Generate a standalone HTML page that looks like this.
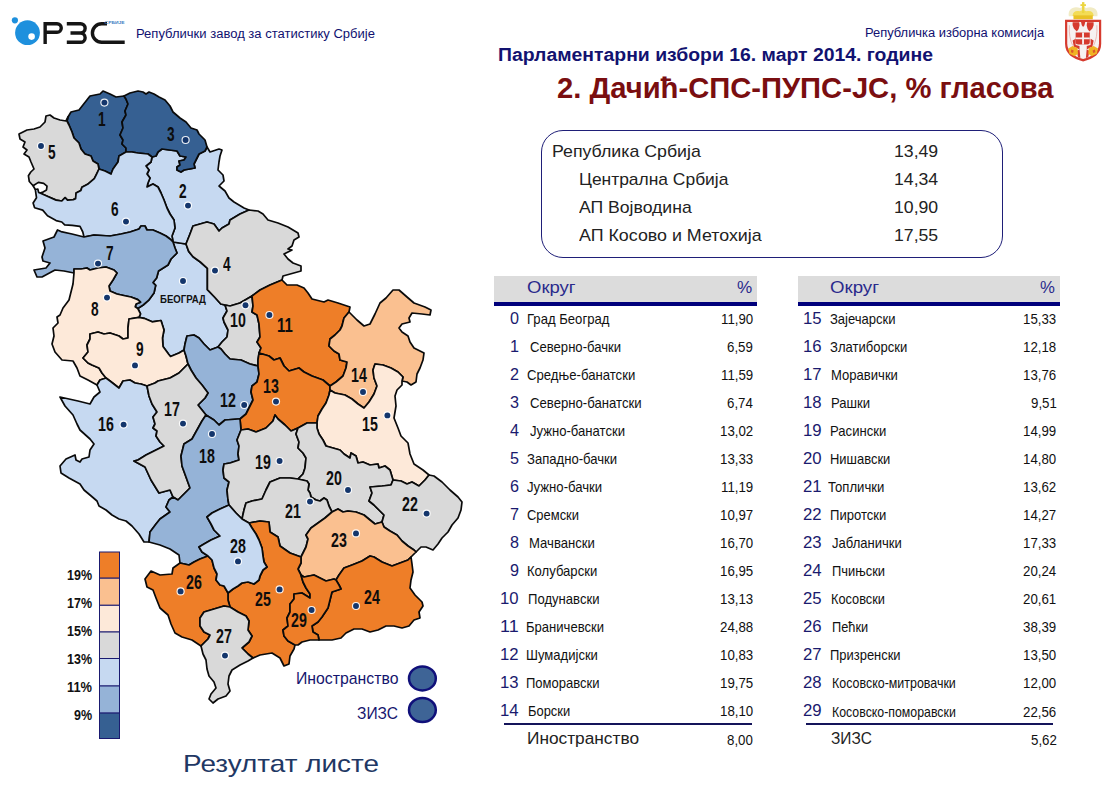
<!DOCTYPE html>
<html><head><meta charset="utf-8"><title>Izbori 2014</title>
<style>
html,body{margin:0;padding:0;background:#fff;}
body{width:1112px;height:785px;position:relative;overflow:hidden;font-family:"Liberation Sans",sans-serif;}
.t{position:absolute;white-space:nowrap;transform-origin:0 0;}
.a{position:absolute;}
svg{position:absolute;left:0;top:0;}
</style></head><body>

<svg width="1112" height="785" viewBox="0 0 1112 785">
<g stroke="#0a0a0a" stroke-width="1.7" stroke-linejoin="round">
<path d="M173,242 L186,244 L188.7,251.4 L193,256.8 L200.3,262 L207.4,268.3 L207.4,289.7 L214.5,297 L220.8,304 L225,305 L227,311 L223,318 L224,322 L228,330 L227,337 L222,342 L218,347 L210,350 L204,344 L199,338 L194,335 L187,336 L185,344 L184,350 L179,353 L170.5,356.5 L168.5,354 L163,346.5 L162.5,338 L164,330 L161,320.5 L152.1,321.8 L144.1,318.3 L139,317.4 L140.5,313.8 L137.8,308.5 L143.2,305 L148.5,300.4 L154,293 L155.7,285.3 L153,282.6 L156.6,278 L158.5,271 L168,265 L171,259 L177,253 L175,248Z" fill="#C6D9F1"/>
<path d="M68,117 L71,112 L79,110 L90,96 L100,94 L103,91 L110,94 L116,97 L124,96 L126,99 L128,104 L125,111 L126,115 L122,122 L123,128 L120,135 L123,140 L122,144 L126,148 L126,152 L119,156 L118,162 L113,169 L111,174 L105,171 L99,169 L98,164 L93,161 L91,156 L85,154 L81,149 L79,143 L74,138 L72,132 L69,125 L67,121Z" fill="#366092"/>
<path d="M152,157 L156,156 L158,152 L162,149 L177,151 L180,156 L186,157 L184,160 L179,161 L180,165 L177,167 L177,170 L181,172 L184,170 L195,168 L194,164 L197,158 L199,154 L205,151 L207,147 L210,152 L219,149 L222,150 L220,156 L219,162 L218,170 L223,175 L224,181 L219,186 L225,191 L229,198 L234,202 L244,208 L249,210 L240,214 L230,220 L229,224 L222,228 L219,231 L214,224 L207,222 L193,226 L190,234 L186,244 L173,242 L172,236 L175,228 L174,220 L170,214 L167,208 L164,200 L161,193 L158,187 L153,184 L147,187 L148,183 L150,178 L147,174 L149,170 L146,166 L151,162Z" fill="#C6D9F1"/>
<path d="M124,96 L130,93 L138,91 L143,92 L146,94 L149,92 L154,94 L159,97 L165,100 L170,106 L173,112 L180,118 L186,122 L191,128 L197,130 L199,134 L205,140 L207,147 L205,151 L199,154 L197,158 L194,164 L195,168 L184,170 L181,172 L177,170 L177,167 L180,165 L179,161 L184,160 L186,157 L180,156 L177,151 L162,149 L158,152 L156,156 L152,157 L148,154 L138,153 L132,152 L126,152 L126,148 L122,144 L123,140 L120,135 L123,128 L122,122 L126,115 L125,111 L128,104 L126,99Z" fill="#366092"/>
<path d="M186,244 L190,234 L193,226 L207,222 L214,224 L219,231 L222,228 L229,224 L230,220 L240,214 L249,210 L258,211 L263,214 L268,220 L278,223 L288,227 L298,233 L299,237 L294,240 L292,246 L288,249 L292,250 L284,254 L288,259 L293,263 L301,266 L301,271 L283,276 L282,280 L270,285 L260,290 L252,296 L240,303 L230,306 L225,305 L220.8,304 L214.5,297 L207.4,289.7 L207.4,268.3 L200.3,262 L193,256.8 L188.7,251.4Z" fill="#D9D9D9"/>
<path d="M68,117 L67,121 L69,125 L72,132 L74,138 L79,143 L81,149 L85,154 L91,156 L93,161 L98,164 L99,169 L96.7,173.8 L94.3,178.6 L87.6,184.3 L81.9,187.2 L80.9,190.5 L76.1,193 L75.6,198.7 L73.3,199.6 L67.5,200.1 L65.1,197.7 L61.8,201 L56.1,200.1 L48.4,196.7 L40,193 L42.2,192.4 L46.5,190 L47,186.2 L43.7,183.4 L38.4,182.4 L33.1,185.8 L29.3,181.5 L28.4,175.7 L30.8,172 L34,169 L31,162 L29,157 L24,154 L27,150 L23,147 L25,142 L20,139 L19,134 L27,130 L34,129 L40,127 L45,122 L46,116 L50,115 L54,118 L60,120 L66,121Z" fill="#D9D9D9"/>
<path d="M99,169 L105,171 L111,174 L113,169 L118,162 L119,156 L126,152 L132,152 L138,153 L148,154 L152,157 L151,162 L146,166 L149,170 L147,174 L150,178 L148,183 L147,187 L153,184 L158,187 L161,193 L164,200 L167,208 L170,214 L174,220 L175,228 L172,236 L173,242 L170,239 L166,236 L160,233 L153,230 L147,230 L145,226 L141,226 L139,229 L130,232 L121,234 L110,236 L94,235 L84,237 L82.8,232 L80,226.4 L72.3,225.4 L64.7,224.9 L61.8,222 L56.1,220.6 L47.5,215.8 L42.7,210.1 L34.6,207.7 L33.1,203 L36.5,197.7 L35.3,189.5 L37.8,189 L38.6,192.4 L40,193 L48.4,196.7 L56.1,200.1 L61.8,201 L65.1,197.7 L67.5,200.1 L73.3,199.6 L75.6,198.7 L76.1,193 L80.9,190.5 L81.9,187.2 L87.6,184.3 L94.3,178.6 L96.7,173.8Z" fill="#C6D9F1"/>
<path d="M84,237 L94,235 L110,236 L121,234 L130,232 L139,229 L141,226 L145,226 L147,230 L153,230 L160,233 L166,236 L170,239 L173,242 L175,248 L177,253 L171,259 L168,265 L158.5,271 L156.6,278 L153,282.6 L155.7,285.3 L154,293 L148.5,300.4 L143.2,305 L137.8,308.5 L135.2,306.7 L136.1,304 L140.5,302.2 L137.8,299.6 L131,297 L126,296 L117,294 L110,291 L109,286 L113,280 L117,273 L114,270 L106,267 L98,268 L90,270 L87,268 L81,269 L74,269 L74,273 L64,271 L55,270 L42,277 L37,277 L34,270 L46,268 L50,263 L43,261 L42,257 L45,248 L43,241 L54,237 L57.5,230 L61,231.6 L72,234Z" fill="#95B3D7"/>
<path d="M74,273 L74,269 L81,269 L87,268 L90,270 L98,268 L106,267 L114,270 L117,273 L113,280 L109,286 L110,291 L117,294 L126,296 L131,297 L137.8,299.6 L140.5,302.2 L136.1,304 L135.2,306.7 L137.8,308.5 L140.5,313.8 L139,317.4 L129,319 L128,328 L128,338 L123,339 L119,336 L110,333 L104,334 L98,332 L90,334 L90,339 L87,345 L88,352 L83,358 L88,363 L92,365 L99,368 L102,373 L106,378 L100,380 L97,385 L88,380 L80,376 L77,368 L73,361 L62,360 L55,352 L52,344 L54,336 L53,328 L58,323 L57,317 L60,315 L63,308 L69,300 L71,292 L73,284Z" fill="#FDE9D9"/>
<path d="M106,378 L102,373 L99,368 L92,365 L88,363 L83,358 L88,352 L87,345 L90,339 L90,334 L98,332 L104,334 L110,333 L119,336 L123,339 L128,338 L128,328 L129,319 L139,317.4 L144.1,318.3 L152.1,321.8 L161,320.5 L164,330 L162.5,338 L163,346.5 L168.5,354 L170.5,356.5 L179,353 L184,350 L186,356 L188,364 L179,373 L170,378 L158,381 L155,383 L147,386 L141,384 L135,383 L130,380 L123,381 L119,388 L110,381Z" fill="#FDE9D9"/>
<path d="M225,305 L230,306 L240,303 L252,296 L253,306 L252,312 L257,315 L259,324 L260,337 L257,342 L261,348 L259,353 L258,360 L258,366 L250,364 L241,360 L230,359 L225,354 L221,349 L218,347 L222,342 L227,337 L228,330 L224,322 L223,318 L227,311Z" fill="#D9D9D9"/>
<path d="M252,296 L260,290 L270,285 L282,280 L287,285 L297,285 L304,288 L308,293 L312,299 L324,302 L328,300 L338,303 L350,307 L349,312 L344,318 L342,326 L340,330 L335,335 L330,339 L329,346 L334,351 L339,354 L340,360 L347,362 L346,368 L343,376 L336,382 L330,386 L323,380 L312,376 L304,372 L299,368 L289,371 L284,366 L280,358 L274,360 L269,356 L259,353 L261,348 L257,342 L260,337 L259,324 L257,315 L252,312 L253,306Z" fill="#EE7E28"/>
<path d="M184,350 L185,344 L187,336 L194,335 L199,338 L204,344 L210,350 L218,347 L221,349 L225,354 L230,359 L241,360 L250,364 L258,366 L259,374 L257,382 L252,386 L251,392 L253,400 L249,408 L246,414 L240,419 L238,419 L225,420 L219,425 L214,420 L206,415 L198,405 L205,398 L208,393 L202,385 L196,378 L191,370 L188,364 L186,356Z" fill="#95B3D7"/>
<path d="M259,353 L269,356 L274,360 L280,358 L284,366 L289,371 L299,368 L304,372 L312,376 L323,380 L330,386 L330,390 L329,395 L326,403 L322,409 L318,416 L317,423 L307,423 L298,428 L291,431 L285,425 L278,419 L275,415 L273,421 L266,428 L256,432 L248,429 L241,430 L240,419 L246,414 L249,408 L253,400 L251,392 L252,386 L257,382 L259,374 L258,366 L258,360Z" fill="#EE7E28"/>
<path d="M330,386 L336,382 L343,376 L346,368 L347,362 L340,360 L339,354 L334,351 L329,346 L330,339 L335,335 L340,330 L342,326 L344,318 L349,312 L357,320 L364,326 L370,324 L375,314 L380,303 L386,298 L393,290 L399,290 L407,297 L414,303 L425,307 L431,310 L430,315 L422,314 L412,313 L409,318 L410,322 L402,324 L399,328 L402,332 L408,336 L410,342 L414,348 L424,353 L423,360 L420,368 L417,374 L416,382 L411,385 L407,382 L402,381 L403,377 L398,372 L391,368 L383,365 L375,364 L373,370 L374,378 L377,386 L374,394 L369,402 L364,408 L358,404 L352,399 L345,395 L335,393 L330,390Z" fill="#FAC090"/>
<path d="M330,390 L335,393 L345,395 L352,399 L358,404 L364,408 L369,402 L374,394 L377,386 L374,378 L373,370 L375,364 L383,365 L391,368 L398,372 L403,377 L402,381 L402,385 L397,390 L395,396 L396,406 L394,418 L398,428 L401,436 L408,443 L410,454 L414,464 L423,470 L429,475 L425,480 L419,486 L412,482 L407,484 L401,481 L393,480 L390,470 L385,466 L379,468 L378,464 L370,465 L363,462 L358,463 L356,456 L351,453 L350,458 L344,454 L340,450 L333,448 L326,446 L323,440 L319,434 L317,428 L317,423 L318,416 L322,409 L326,403 L329,395Z" fill="#FDE9D9"/>
<path d="M106,378 L110,381 L119,388 L123,381 L130,380 L135,383 L141,384 L147,386 L149,396 L152,404 L157,412 L153,417 L155,424 L153,428 L157,431 L156,436 L160,442 L164,446 L158,449 L150,453 L146,455 L138,460 L134,461 L145,467 L151,480 L159,493 L170,490 L173,497 L169,500 L166,507 L170,512 L160,519 L156,524 L150,532 L149,542 L144,542 L139,534 L132,526 L126,521 L119,519 L112,515 L106,510 L99,506 L97,501 L90,495 L84,490 L80,484 L69,478 L61,473 L60,466 L66,459 L75,455 L76,460 L80,462 L82,459 L89,457 L90,450 L94,444 L90,439 L80,430 L77,424 L73,415 L65,406 L60,397 L78,401 L90,404 L94,397 L100,392 L97,385 L100,380Z" fill="#C6D9F1"/>
<path d="M147,386 L155,383 L158,381 L170,378 L179,373 L188,364 L191,370 L196,378 L202,385 L208,393 L205,398 L198,405 L206,415 L202,421 L197,430 L192,439 L184,444 L181,456 L182,466 L186,477 L190,488 L178,500 L173,497 L170,490 L159,493 L151,480 L145,467 L134,461 L138,460 L146,455 L150,453 L158,449 L164,446 L160,442 L156,436 L157,431 L153,428 L155,424 L153,417 L157,412 L152,404 L149,396Z" fill="#D9D9D9"/>
<path d="M173,497 L178,500 L190,488 L186,477 L182,466 L181,456 L184,444 L192,439 L197,430 L202,421 L206,415 L214,420 L219,425 L225,420 L238,419 L240,419 L241,430 L237,440 L239,446 L238,454 L239,460 L230,463 L224,464 L223,470 L224,478 L229,482 L227,490 L228,500 L229,505 L220,509 L212,513 L207,517 L211,524 L214,530 L220,536 L211,540 L204,544 L199,547 L202,552 L208,556 L200,559 L194,562 L189,565 L180,563 L179,555 L170,549 L160,545 L149,542 L150,532 L156,524 L160,519 L170,512 L166,507 L169,500Z" fill="#95B3D7"/>
<path d="M241,430 L248,429 L256,432 L266,428 L273,421 L275,415 L278,419 L285,425 L291,431 L298,428 L296,434 L299,442 L298,448 L303,453 L306,458 L305,468 L303,474 L298,479 L290,478 L280,478 L270,482 L266,490 L262,499 L252,501 L246,503 L244,510 L242,519 L236,513 L229,505 L228,500 L227,490 L229,482 L224,478 L223,470 L224,464 L230,463 L239,460 L238,454 L239,446 L237,440Z" fill="#D9D9D9"/>
<path d="M298,428 L307,423 L317,423 L317,428 L319,434 L323,440 L326,446 L333,448 L340,450 L344,454 L350,458 L351,453 L356,456 L358,463 L363,462 L370,465 L378,464 L379,468 L385,466 L390,470 L393,480 L391,485 L382,486 L370,487 L372,493 L369,501 L374,505 L379,510 L384,515 L382,522 L375,524 L370,520 L364,515 L356,512 L348,511 L343,512 L338,509 L332,512 L329,506 L327,500 L324,498 L320,501 L316,500 L311,497 L310,493 L308,490 L309,484 L307,481 L298,479 L303,474 L305,468 L306,458 L303,453 L298,448 L299,442 L296,434Z" fill="#D9D9D9"/>
<path d="M298,479 L307,481 L309,484 L308,490 L310,493 L311,497 L316,500 L320,501 L324,498 L327,500 L329,506 L332,512 L325,518 L318,523 L311,528 L306,535 L308,539 L306,547 L303,553 L301,557 L290,553 L280,546 L278,537 L270,532 L269,522 L260,521 L249,523 L242,519 L244,510 L246,503 L252,501 L262,499 L266,490 L270,482 L280,478 L290,478Z" fill="#D9D9D9"/>
<path d="M393,480 L401,481 L407,484 L412,482 L419,486 L425,480 L429,475 L434,476 L442,482 L450,490 L458,497 L462,502 L461,510 L458,518 L452,525 L448,532 L442,538 L438,544 L433,550 L426,547 L421,547 L416,552 L414,550 L408,546 L402,541 L397,535 L390,531 L384,527 L382,522 L384,515 L379,510 L374,505 L369,501 L372,493 L370,487 L382,486 L391,485Z" fill="#D9D9D9"/>
<path d="M332,512 L338,509 L343,512 L348,511 L356,512 L364,515 L370,520 L375,524 L382,522 L384,527 L390,531 L397,535 L402,541 L408,546 L414,550 L416,552 L411,557 L408,560 L400,563 L392,566 L382,562 L374,557 L370,556 L362,561 L352,565 L344,568 L339,575 L336,580 L334,579 L326,581 L320,578 L314,575 L304,577 L301,575 L298,569 L301,563 L301,557 L303,553 L306,547 L308,539 L306,535 L311,528 L318,523 L325,518Z" fill="#FAC090"/>
<path d="M336,580 L339,575 L344,568 L352,565 L362,561 L370,556 L374,557 L382,562 L392,566 L400,563 L408,560 L411,557 L412,564 L413,572 L411,580 L410,588 L415,595 L422,602 L423,606 L419,612 L420,618 L414,620 L409,626 L402,628 L394,626 L386,626 L378,630 L370,632 L362,629 L354,629 L346,633 L341,638 L332,640 L326,640 L319,640 L318,635 L313,632 L312,626 L318,622 L322,617 L328,608 L330,600 L332,592 L341,589 L339,585Z" fill="#EE7E28"/>
<path d="M249,523 L260,521 L269,522 L270,532 L278,537 L280,546 L290,553 L301,557 L301,563 L298,569 L301,575 L303,582 L306,588 L310,594 L310,598 L302,593 L294,594 L294,599 L290,604 L290,612 L287,618 L288,626 L283,630 L284,636 L288,641 L295,645 L294,649 L290,656 L289,664 L284,666 L280,658 L272,653 L260,655 L253,658 L248,654 L242,648 L249,642 L252,636 L248,630 L249,621 L246,616 L238,612 L230,607 L228,600 L228,593 L233,589 L238,586 L242,583 L248,582 L254,584 L259,580 L260,576 L263,570 L267,567 L264,562 L263,556 L262,548 L259,540 L256,534 L252,528Z" fill="#EE7E28"/>
<path d="M180,563 L189,565 L194,562 L200,559 L208,556 L212,560 L214,568 L217,574 L216,580 L220,585 L224,586 L228,593 L228,600 L230,607 L224,606 L214,609 L204,612 L200,618 L200,626 L204,632 L210,635 L208,639 L201,646 L192,640 L182,637 L175,633 L171,624 L168,615 L160,608 L156,598 L153,590 L147,587 L145,579 L151,571 L160,575 L172,574 L173,568Z" fill="#EE7E28"/>
<path d="M201,646 L208,639 L210,635 L204,632 L200,626 L200,618 L204,612 L214,609 L224,606 L230,607 L238,612 L246,616 L249,621 L248,630 L252,636 L249,642 L242,648 L248,654 L253,658 L248,661 L240,665 L232,670 L229,676 L228,684 L230,691 L226,696 L218,699 L213,703 L209,699 L211,694 L216,688 L214,682 L209,676 L207,669 L206,660 L203,654Z" fill="#D9D9D9"/>
<path d="M208,556 L202,552 L199,547 L204,544 L211,540 L220,536 L214,530 L211,524 L207,517 L212,513 L220,509 L229,505 L236,513 L242,519 L249,523 L252,528 L256,534 L259,540 L262,548 L263,556 L264,562 L267,567 L263,570 L260,576 L259,580 L254,584 L248,582 L242,583 L238,586 L233,589 L228,593 L224,586 L220,585 L216,580 L217,574 L214,568 L212,560Z" fill="#C6D9F1"/>
<path d="M301,575 L304,577 L314,575 L320,578 L326,581 L334,579 L336,580 L339,585 L341,589 L332,592 L330,600 L328,608 L322,617 L318,622 L312,626 L313,632 L318,635 L319,640 L310,640 L302,642 L298,645 L295,645 L288,641 L284,636 L283,630 L288,626 L287,618 L290,612 L290,604 L294,599 L294,594 L302,593 L310,598 L310,594 L306,588 L303,582Z" fill="#EE7E28"/>
<path d="M33.1,185.8 L35.3,189.5" fill="none"/>
</g>
<circle cx="104.4" cy="102.6" r="4.1" fill="#fff" opacity="0.9"/><circle cx="104.4" cy="102.6" r="2.95" fill="#14366C"/>
<circle cx="185.6" cy="140" r="4.1" fill="#fff" opacity="0.9"/><circle cx="185.6" cy="140" r="2.95" fill="#14366C"/>
<circle cx="41" cy="146" r="4.1" fill="#fff" opacity="0.9"/><circle cx="41" cy="146" r="2.95" fill="#14366C"/>
<circle cx="126" cy="221.6" r="4.1" fill="#fff" opacity="0.9"/><circle cx="126" cy="221.6" r="2.95" fill="#14366C"/>
<circle cx="188" cy="205.6" r="4.1" fill="#fff" opacity="0.9"/><circle cx="188" cy="205.6" r="2.95" fill="#14366C"/>
<circle cx="215" cy="270.6" r="4.1" fill="#fff" opacity="0.9"/><circle cx="215" cy="270.6" r="2.95" fill="#14366C"/>
<circle cx="183" cy="281" r="4.1" fill="#fff" opacity="0.9"/><circle cx="183" cy="281" r="2.95" fill="#14366C"/>
<circle cx="245.5" cy="305.3" r="4.1" fill="#fff" opacity="0.9"/><circle cx="245.5" cy="305.3" r="2.95" fill="#14366C"/>
<circle cx="98" cy="263.6" r="4.1" fill="#fff" opacity="0.9"/><circle cx="98" cy="263.6" r="2.95" fill="#14366C"/>
<circle cx="107" cy="297.6" r="4.1" fill="#fff" opacity="0.9"/><circle cx="107" cy="297.6" r="2.95" fill="#14366C"/>
<circle cx="135" cy="365.4" r="4.1" fill="#fff" opacity="0.9"/><circle cx="135" cy="365.4" r="2.95" fill="#14366C"/>
<circle cx="123.6" cy="424.6" r="4.1" fill="#fff" opacity="0.9"/><circle cx="123.6" cy="424.6" r="2.95" fill="#14366C"/>
<circle cx="183" cy="423.6" r="4.1" fill="#fff" opacity="0.9"/><circle cx="183" cy="423.6" r="2.95" fill="#14366C"/>
<circle cx="244.2" cy="405" r="4.1" fill="#fff" opacity="0.9"/><circle cx="244.2" cy="405" r="2.95" fill="#14366C"/>
<circle cx="212" cy="434" r="4.1" fill="#fff" opacity="0.9"/><circle cx="212" cy="434" r="2.95" fill="#14366C"/>
<circle cx="269.4" cy="315" r="4.1" fill="#fff" opacity="0.9"/><circle cx="269.4" cy="315" r="2.95" fill="#14366C"/>
<circle cx="363" cy="392" r="4.1" fill="#fff" opacity="0.9"/><circle cx="363" cy="392" r="2.95" fill="#14366C"/>
<circle cx="276" cy="401.6" r="4.1" fill="#fff" opacity="0.9"/><circle cx="276" cy="401.6" r="2.95" fill="#14366C"/>
<circle cx="387.4" cy="415.4" r="4.1" fill="#fff" opacity="0.9"/><circle cx="387.4" cy="415.4" r="2.95" fill="#14366C"/>
<circle cx="279.6" cy="461" r="4.1" fill="#fff" opacity="0.9"/><circle cx="279.6" cy="461" r="2.95" fill="#14366C"/>
<circle cx="348" cy="490" r="4.1" fill="#fff" opacity="0.9"/><circle cx="348" cy="490" r="2.95" fill="#14366C"/>
<circle cx="310" cy="501.6" r="4.1" fill="#fff" opacity="0.9"/><circle cx="310" cy="501.6" r="2.95" fill="#14366C"/>
<circle cx="426.6" cy="513.6" r="4.1" fill="#fff" opacity="0.9"/><circle cx="426.6" cy="513.6" r="2.95" fill="#14366C"/>
<circle cx="356" cy="533.4" r="4.1" fill="#fff" opacity="0.9"/><circle cx="356" cy="533.4" r="2.95" fill="#14366C"/>
<circle cx="356" cy="606" r="4.1" fill="#fff" opacity="0.9"/><circle cx="356" cy="606" r="2.95" fill="#14366C"/>
<circle cx="279.6" cy="589.4" r="4.1" fill="#fff" opacity="0.9"/><circle cx="279.6" cy="589.4" r="2.95" fill="#14366C"/>
<circle cx="311.6" cy="610" r="4.1" fill="#fff" opacity="0.9"/><circle cx="311.6" cy="610" r="2.95" fill="#14366C"/>
<circle cx="238" cy="561.4" r="4.1" fill="#fff" opacity="0.9"/><circle cx="238" cy="561.4" r="2.95" fill="#14366C"/>
<circle cx="180.6" cy="591.4" r="4.1" fill="#fff" opacity="0.9"/><circle cx="180.6" cy="591.4" r="2.95" fill="#14366C"/>
<circle cx="225" cy="655.6" r="4.1" fill="#fff" opacity="0.9"/><circle cx="225" cy="655.6" r="2.95" fill="#14366C"/>
<rect x="99.5" y="552" width="20" height="26.2" fill="#EE7E28" stroke="#1a1a70" stroke-width="1"/>
<rect x="99.5" y="578.2" width="20" height="27.1" fill="#FAC090" stroke="#1a1a70" stroke-width="1"/>
<rect x="99.5" y="605.3" width="20" height="26.7" fill="#FDE9D9" stroke="#1a1a70" stroke-width="1"/>
<rect x="99.5" y="632" width="20" height="26.5" fill="#D9D9D9" stroke="#1a1a70" stroke-width="1"/>
<rect x="99.5" y="658.5" width="20" height="27.5" fill="#C6D9F1" stroke="#1a1a70" stroke-width="1"/>
<rect x="99.5" y="686" width="20" height="27.1" fill="#95B3D7" stroke="#1a1a70" stroke-width="1"/>
<rect x="99.5" y="713.1" width="20" height="25.4" fill="#366092" stroke="#1a1a70" stroke-width="1"/>
<ellipse cx="422.4" cy="678.4" rx="13.4" ry="12.0" fill="#3E6496" stroke="#10107a" stroke-width="2.5"/>
<ellipse cx="422.4" cy="710.0" rx="13.4" ry="12.0" fill="#3E6496" stroke="#10107a" stroke-width="2.5"/>
</svg>
<div class="t" style="left:98.2px;top:108.9px;font-size:20px;line-height:20px;color:#0d0d0d;font-weight:bold;transform:scaleX(0.6833);">1</div>
<div class="t" style="left:167.2px;top:123.9px;font-size:20px;line-height:20px;color:#0d0d0d;font-weight:bold;transform:scaleX(0.6833);">3</div>
<div class="t" style="left:48.2px;top:141.9px;font-size:20px;line-height:20px;color:#0d0d0d;font-weight:bold;transform:scaleX(0.6833);">5</div>
<div class="t" style="left:111.2px;top:198.9px;font-size:20px;line-height:20px;color:#0d0d0d;font-weight:bold;transform:scaleX(0.6833);">6</div>
<div class="t" style="left:178.6px;top:180.9px;font-size:20px;line-height:20px;color:#0d0d0d;font-weight:bold;transform:scaleX(0.6833);">2</div>
<div class="t" style="left:223.2px;top:253.9px;font-size:20px;line-height:20px;color:#0d0d0d;font-weight:bold;transform:scaleX(0.6833);">4</div>
<div class="t" style="left:106.2px;top:242.9px;font-size:20px;line-height:20px;color:#0d0d0d;font-weight:bold;transform:scaleX(0.6833);">7</div>
<div class="t" style="left:90.8px;top:298.9px;font-size:20px;line-height:20px;color:#0d0d0d;font-weight:bold;transform:scaleX(0.6833);">8</div>
<div class="t" style="left:135.5px;top:338.9px;font-size:20px;line-height:20px;color:#0d0d0d;font-weight:bold;transform:scaleX(0.6833);">9</div>
<div class="t" style="left:98.1px;top:413.9px;font-size:20px;line-height:20px;color:#0d0d0d;font-weight:bold;transform:scaleX(0.7103);">16</div>
<div class="t" style="left:164.1px;top:398.9px;font-size:20px;line-height:20px;color:#0d0d0d;font-weight:bold;transform:scaleX(0.7103);">17</div>
<div class="t" style="left:220.1px;top:389.9px;font-size:20px;line-height:20px;color:#0d0d0d;font-weight:bold;transform:scaleX(0.7103);">12</div>
<div class="t" style="left:199.1px;top:445.9px;font-size:20px;line-height:20px;color:#0d0d0d;font-weight:bold;transform:scaleX(0.7103);">18</div>
<div class="t" style="left:230.1px;top:309.9px;font-size:20px;line-height:20px;color:#0d0d0d;font-weight:bold;transform:scaleX(0.7103);">10</div>
<div class="t" style="left:277.1px;top:314.9px;font-size:20px;line-height:20px;color:#0d0d0d;font-weight:bold;transform:scaleX(0.7474);">11</div>
<div class="t" style="left:351.1px;top:364.9px;font-size:20px;line-height:20px;color:#0d0d0d;font-weight:bold;transform:scaleX(0.7103);">14</div>
<div class="t" style="left:263.1px;top:375.9px;font-size:20px;line-height:20px;color:#0d0d0d;font-weight:bold;transform:scaleX(0.7103);">13</div>
<div class="t" style="left:362.1px;top:413.9px;font-size:20px;line-height:20px;color:#0d0d0d;font-weight:bold;transform:scaleX(0.7103);">15</div>
<div class="t" style="left:255.1px;top:451.9px;font-size:20px;line-height:20px;color:#0d0d0d;font-weight:bold;transform:scaleX(0.7103);">19</div>
<div class="t" style="left:326.1px;top:467.9px;font-size:20px;line-height:20px;color:#0d0d0d;font-weight:bold;transform:scaleX(0.7103);">20</div>
<div class="t" style="left:285.1px;top:500.9px;font-size:20px;line-height:20px;color:#0d0d0d;font-weight:bold;transform:scaleX(0.7103);">21</div>
<div class="t" style="left:402.1px;top:493.9px;font-size:20px;line-height:20px;color:#0d0d0d;font-weight:bold;transform:scaleX(0.7103);">22</div>
<div class="t" style="left:331.1px;top:529.9px;font-size:20px;line-height:20px;color:#0d0d0d;font-weight:bold;transform:scaleX(0.7103);">23</div>
<div class="t" style="left:364.1px;top:586.9px;font-size:20px;line-height:20px;color:#0d0d0d;font-weight:bold;transform:scaleX(0.7103);">24</div>
<div class="t" style="left:255.1px;top:588.9px;font-size:20px;line-height:20px;color:#0d0d0d;font-weight:bold;transform:scaleX(0.7103);">25</div>
<div class="t" style="left:291.1px;top:609.9px;font-size:20px;line-height:20px;color:#0d0d0d;font-weight:bold;transform:scaleX(0.7103);">29</div>
<div class="t" style="left:229.7px;top:535.9px;font-size:20px;line-height:20px;color:#0d0d0d;font-weight:bold;transform:scaleX(0.7103);">28</div>
<div class="t" style="left:185.5px;top:571.9px;font-size:20px;line-height:20px;color:#0d0d0d;font-weight:bold;transform:scaleX(0.7103);">26</div>
<div class="t" style="left:216.1px;top:626.3px;font-size:20px;line-height:20px;color:#0d0d0d;font-weight:bold;transform:scaleX(0.7103);">27</div>
<div class="t" style="left:159.6px;top:294.2px;font-size:10.6px;line-height:10.6px;color:#111;font-weight:bold;transform:scaleX(0.9076);">БЕОГРАД</div>
<div class="t" style="left:66.6px;top:567.8px;font-size:14.6px;line-height:14.6px;color:#111;font-weight:bold;transform:scaleX(0.8556);">19%</div>
<div class="t" style="left:66.6px;top:595.8px;font-size:14.6px;line-height:14.6px;color:#111;font-weight:bold;transform:scaleX(0.8556);">17%</div>
<div class="t" style="left:66.6px;top:623.8px;font-size:14.6px;line-height:14.6px;color:#111;font-weight:bold;transform:scaleX(0.8556);">15%</div>
<div class="t" style="left:66.6px;top:651.8px;font-size:14.6px;line-height:14.6px;color:#111;font-weight:bold;transform:scaleX(0.8556);">13%</div>
<div class="t" style="left:66.6px;top:679.8px;font-size:14.6px;line-height:14.6px;color:#111;font-weight:bold;transform:scaleX(0.8798);">11%</div>
<div class="t" style="left:73.5px;top:707.8px;font-size:14.6px;line-height:14.6px;color:#111;font-weight:bold;transform:scaleX(0.8578);">9%</div>
<div class="t" style="left:296.2px;top:670.3px;font-size:16.4px;line-height:16.4px;color:#15156e;transform:scaleX(0.9640);">Иностранство</div>
<div class="t" style="left:357.0px;top:705.4px;font-size:16.4px;line-height:16.4px;color:#15156e;transform:scaleX(0.9478);">ЗИЗС</div>
<div class="t" style="left:183.0px;top:752.2px;font-size:24.8px;line-height:24.8px;color:#1F3864;transform:scaleX(1.1247);">Резултат листе</div>
<div class="t" style="left:135.5px;top:28.1px;font-size:12.3px;line-height:12.3px;color:#101070;transform:scaleX(1.0590);">Републички завод за статистику Србије</div>
<div class="t" style="left:864.5px;top:27.4px;font-size:12px;line-height:12px;color:#101070;transform:scaleX(1.0752);">Републичка изборна комисија</div>
<div class="t" style="left:497.8px;top:45.2px;font-size:19.2px;line-height:19.2px;color:#121270;font-weight:bold;transform:scaleX(1.0105);">Парламентарни избори 16. март 2014. године</div>
<div class="t" style="left:556.5px;top:72.8px;font-size:30px;line-height:30px;color:#7A0E10;font-weight:bold;transform:scaleX(0.9727);">2. Дачић-СПС-ПУПС-ЈС, % гласова</div>
<div class="a" style="left:540.6px;top:130.3px;width:460px;height:126px;border:1.8px solid #1f1f78;border-radius:22px;box-sizing:content-box"></div>
<div class="t" style="left:552.2px;top:143.1px;font-size:16.2px;line-height:16.2px;color:#222;transform:scaleX(1.0964);">Република Србија</div>
<div class="t" style="left:893.8px;top:143.1px;font-size:16.2px;line-height:16.2px;color:#222;transform:scaleX(1.0904);">13,49</div>
<div class="t" style="left:579.2px;top:171.1px;font-size:16.2px;line-height:16.2px;color:#222;transform:scaleX(1.0761);">Централна Србија</div>
<div class="t" style="left:893.8px;top:171.1px;font-size:16.2px;line-height:16.2px;color:#222;transform:scaleX(1.0904);">14,34</div>
<div class="t" style="left:579.2px;top:199.1px;font-size:16.2px;line-height:16.2px;color:#222;transform:scaleX(1.0876);">АП Војводина</div>
<div class="t" style="left:893.8px;top:199.1px;font-size:16.2px;line-height:16.2px;color:#222;transform:scaleX(1.0904);">10,90</div>
<div class="t" style="left:579.2px;top:227.1px;font-size:16.2px;line-height:16.2px;color:#222;transform:scaleX(1.1015);">АП Косово и Метохија</div>
<div class="t" style="left:893.8px;top:227.1px;font-size:16.2px;line-height:16.2px;color:#222;transform:scaleX(1.0904);">17,55</div>
<div class="a" style="left:494px;top:276px;width:263px;height:26px;background:#DCDCDC"></div>
<div class="a" style="left:494px;top:302px;width:263px;height:3.5px;background:#00007B"></div>
<div class="t" style="left:527.4px;top:279.1px;font-size:16.2px;line-height:16.2px;color:#2A2A8C;transform:scaleX(1.1429);">Округ</div>
<div class="t" style="left:736.8px;top:279.1px;font-size:16.2px;line-height:16.2px;color:#2A2A8C;transform:scaleX(1.0552);">%</div>
<div class="t" style="left:510.0px;top:310.6px;font-size:15.6px;line-height:15.6px;color:#1a1a6e;transform:scaleX(1.0375);">0</div>
<div class="t" style="left:527.4px;top:311.1px;font-size:15px;line-height:15px;color:#111;transform:scaleX(0.8737);">Град Београд</div>
<div class="t" style="left:721.0px;top:311.1px;font-size:15px;line-height:15px;color:#111;transform:scaleX(0.8850);">11,90</div>
<div class="t" style="left:510.0px;top:338.6px;font-size:15.6px;line-height:15.6px;color:#1a1a6e;transform:scaleX(1.0375);">1</div>
<div class="t" style="left:529.7px;top:339.1px;font-size:15px;line-height:15px;color:#111;transform:scaleX(0.8735);">Северно-бачки</div>
<div class="t" style="left:727.4px;top:339.1px;font-size:15px;line-height:15px;color:#111;transform:scaleX(0.8850);">6,59</div>
<div class="t" style="left:510.0px;top:366.6px;font-size:15.6px;line-height:15.6px;color:#1a1a6e;transform:scaleX(1.0375);">2</div>
<div class="t" style="left:527.4px;top:367.1px;font-size:15px;line-height:15px;color:#111;transform:scaleX(0.8770);">Средње-банатски</div>
<div class="t" style="left:721.0px;top:367.1px;font-size:15px;line-height:15px;color:#111;transform:scaleX(0.8850);">11,59</div>
<div class="t" style="left:510.0px;top:394.6px;font-size:15.6px;line-height:15.6px;color:#1a1a6e;transform:scaleX(1.0375);">3</div>
<div class="t" style="left:529.7px;top:395.1px;font-size:15px;line-height:15px;color:#111;transform:scaleX(0.8767);">Северно-банатски</div>
<div class="t" style="left:727.4px;top:395.1px;font-size:15px;line-height:15px;color:#111;transform:scaleX(0.8850);">6,74</div>
<div class="t" style="left:510.0px;top:422.6px;font-size:15.6px;line-height:15.6px;color:#1a1a6e;transform:scaleX(1.0375);">4</div>
<div class="t" style="left:529.7px;top:423.1px;font-size:15px;line-height:15px;color:#111;transform:scaleX(0.8728);">Јужно-банатски</div>
<div class="t" style="left:720.0px;top:423.1px;font-size:15px;line-height:15px;color:#111;transform:scaleX(0.8850);">13,02</div>
<div class="t" style="left:510.0px;top:450.6px;font-size:15.6px;line-height:15.6px;color:#1a1a6e;transform:scaleX(1.0375);">5</div>
<div class="t" style="left:527.4px;top:451.1px;font-size:15px;line-height:15px;color:#111;transform:scaleX(0.8726);">Западно-бачки</div>
<div class="t" style="left:720.0px;top:451.1px;font-size:15px;line-height:15px;color:#111;transform:scaleX(0.8850);">13,33</div>
<div class="t" style="left:510.0px;top:478.6px;font-size:15.6px;line-height:15.6px;color:#1a1a6e;transform:scaleX(1.0375);">6</div>
<div class="t" style="left:527.4px;top:479.1px;font-size:15px;line-height:15px;color:#111;transform:scaleX(0.8761);">Јужно-бачки</div>
<div class="t" style="left:721.0px;top:479.1px;font-size:15px;line-height:15px;color:#111;transform:scaleX(0.8850);">11,19</div>
<div class="t" style="left:510.0px;top:506.6px;font-size:15.6px;line-height:15.6px;color:#1a1a6e;transform:scaleX(1.0375);">7</div>
<div class="t" style="left:527.4px;top:507.1px;font-size:15px;line-height:15px;color:#111;transform:scaleX(0.8628);">Сремски</div>
<div class="t" style="left:720.0px;top:507.1px;font-size:15px;line-height:15px;color:#111;transform:scaleX(0.8850);">10,97</div>
<div class="t" style="left:510.0px;top:534.6px;font-size:15.6px;line-height:15.6px;color:#1a1a6e;transform:scaleX(1.0375);">8</div>
<div class="t" style="left:528.9px;top:535.1px;font-size:15px;line-height:15px;color:#111;transform:scaleX(0.8745);">Мачвански</div>
<div class="t" style="left:720.0px;top:535.1px;font-size:15px;line-height:15px;color:#111;transform:scaleX(0.8850);">16,70</div>
<div class="t" style="left:510.0px;top:562.6px;font-size:15.6px;line-height:15.6px;color:#1a1a6e;transform:scaleX(1.0375);">9</div>
<div class="t" style="left:527.3px;top:563.1px;font-size:15px;line-height:15px;color:#111;transform:scaleX(0.8716);">Колубарски</div>
<div class="t" style="left:720.0px;top:563.1px;font-size:15px;line-height:15px;color:#111;transform:scaleX(0.8850);">16,95</div>
<div class="t" style="left:500.4px;top:590.6px;font-size:15.6px;line-height:15.6px;color:#1a1a6e;transform:scaleX(1.0720);">10</div>
<div class="t" style="left:528.3px;top:591.1px;font-size:15px;line-height:15px;color:#111;transform:scaleX(0.8729);">Подунавски</div>
<div class="t" style="left:720.0px;top:591.1px;font-size:15px;line-height:15px;color:#111;transform:scaleX(0.8850);">13,13</div>
<div class="t" style="left:500.4px;top:618.6px;font-size:15.6px;line-height:15.6px;color:#1a1a6e;transform:scaleX(1.1487);">11</div>
<div class="t" style="left:526.2px;top:619.1px;font-size:15px;line-height:15px;color:#111;transform:scaleX(0.8707);">Браничевски</div>
<div class="t" style="left:720.0px;top:619.1px;font-size:15px;line-height:15px;color:#111;transform:scaleX(0.8850);">24,88</div>
<div class="t" style="left:500.4px;top:646.6px;font-size:15.6px;line-height:15.6px;color:#1a1a6e;transform:scaleX(1.0720);">12</div>
<div class="t" style="left:526.2px;top:647.1px;font-size:15px;line-height:15px;color:#111;transform:scaleX(0.8701);">Шумадијски</div>
<div class="t" style="left:720.0px;top:647.1px;font-size:15px;line-height:15px;color:#111;transform:scaleX(0.8850);">10,83</div>
<div class="t" style="left:500.4px;top:674.6px;font-size:15.6px;line-height:15.6px;color:#1a1a6e;transform:scaleX(1.0720);">13</div>
<div class="t" style="left:526.2px;top:675.1px;font-size:15px;line-height:15px;color:#111;transform:scaleX(0.8689);">Поморавски</div>
<div class="t" style="left:720.0px;top:675.1px;font-size:15px;line-height:15px;color:#111;transform:scaleX(0.8850);">19,75</div>
<div class="t" style="left:500.4px;top:702.6px;font-size:15.6px;line-height:15.6px;color:#1a1a6e;transform:scaleX(1.0720);">14</div>
<div class="t" style="left:528.3px;top:703.1px;font-size:15px;line-height:15px;color:#111;transform:scaleX(0.8618);">Борски</div>
<div class="t" style="left:720.0px;top:703.1px;font-size:15px;line-height:15px;color:#111;transform:scaleX(0.8850);">18,10</div>
<div class="a" style="left:504.3px;top:723.2px;width:247.40000000000003px;height:2px;background:#14145a"></div>
<div class="t" style="left:527.3px;top:731.0px;font-size:16px;line-height:16px;color:#222;transform:scaleX(1.0797);">Иностранство</div>
<div class="t" style="left:727.4px;top:731.8px;font-size:15px;line-height:15px;color:#111;transform:scaleX(0.8850);">8,00</div>
<div class="a" style="left:798px;top:276px;width:262px;height:26px;background:#DCDCDC"></div>
<div class="a" style="left:798px;top:302px;width:262px;height:3.5px;background:#00007B"></div>
<div class="t" style="left:830.4px;top:279.1px;font-size:16.2px;line-height:16.2px;color:#2A2A8C;transform:scaleX(1.1523);">Округ</div>
<div class="t" style="left:1040.1px;top:279.1px;font-size:16.2px;line-height:16.2px;color:#2A2A8C;transform:scaleX(1.0343);">%</div>
<div class="t" style="left:803.0px;top:310.6px;font-size:15.6px;line-height:15.6px;color:#1a1a6e;transform:scaleX(1.0720);">15</div>
<div class="t" style="left:829.7px;top:311.1px;font-size:15px;line-height:15px;color:#111;transform:scaleX(0.8687);">Зајечарски</div>
<div class="t" style="left:1023.1px;top:311.1px;font-size:15px;line-height:15px;color:#111;transform:scaleX(0.8850);">15,33</div>
<div class="t" style="left:803.0px;top:338.6px;font-size:15.6px;line-height:15.6px;color:#1a1a6e;transform:scaleX(1.0720);">16</div>
<div class="t" style="left:829.7px;top:339.1px;font-size:15px;line-height:15px;color:#111;transform:scaleX(0.8695);">Златиборски</div>
<div class="t" style="left:1023.1px;top:339.1px;font-size:15px;line-height:15px;color:#111;transform:scaleX(0.8850);">12,18</div>
<div class="t" style="left:803.0px;top:366.6px;font-size:15.6px;line-height:15.6px;color:#1a1a6e;transform:scaleX(1.0720);">17</div>
<div class="t" style="left:831.4px;top:367.1px;font-size:15px;line-height:15px;color:#111;transform:scaleX(0.8712);">Моравички</div>
<div class="t" style="left:1023.1px;top:367.1px;font-size:15px;line-height:15px;color:#111;transform:scaleX(0.8850);">13,76</div>
<div class="t" style="left:803.0px;top:394.6px;font-size:15.6px;line-height:15.6px;color:#1a1a6e;transform:scaleX(1.0720);">18</div>
<div class="t" style="left:831.4px;top:395.1px;font-size:15px;line-height:15px;color:#111;transform:scaleX(0.8723);">Рашки</div>
<div class="t" style="left:1030.5px;top:395.1px;font-size:15px;line-height:15px;color:#111;transform:scaleX(0.8850);">9,51</div>
<div class="t" style="left:803.0px;top:422.6px;font-size:15.6px;line-height:15.6px;color:#1a1a6e;transform:scaleX(1.0720);">19</div>
<div class="t" style="left:829.7px;top:423.1px;font-size:15px;line-height:15px;color:#111;transform:scaleX(0.8735);">Расински</div>
<div class="t" style="left:1023.1px;top:423.1px;font-size:15px;line-height:15px;color:#111;transform:scaleX(0.8850);">14,99</div>
<div class="t" style="left:803.0px;top:450.6px;font-size:15.6px;line-height:15.6px;color:#1a1a6e;transform:scaleX(1.0720);">20</div>
<div class="t" style="left:829.7px;top:451.1px;font-size:15px;line-height:15px;color:#111;transform:scaleX(0.8636);">Нишавски</div>
<div class="t" style="left:1023.1px;top:451.1px;font-size:15px;line-height:15px;color:#111;transform:scaleX(0.8850);">14,80</div>
<div class="t" style="left:803.0px;top:478.6px;font-size:15.6px;line-height:15.6px;color:#1a1a6e;transform:scaleX(1.0720);">21</div>
<div class="t" style="left:828.1px;top:479.1px;font-size:15px;line-height:15px;color:#111;transform:scaleX(0.8750);">Топлички</div>
<div class="t" style="left:1023.1px;top:479.1px;font-size:15px;line-height:15px;color:#111;transform:scaleX(0.8850);">13,62</div>
<div class="t" style="left:803.0px;top:506.6px;font-size:15.6px;line-height:15.6px;color:#1a1a6e;transform:scaleX(1.0720);">22</div>
<div class="t" style="left:829.7px;top:507.1px;font-size:15px;line-height:15px;color:#111;transform:scaleX(0.8708);">Пиротски</div>
<div class="t" style="left:1023.1px;top:507.1px;font-size:15px;line-height:15px;color:#111;transform:scaleX(0.8850);">14,27</div>
<div class="t" style="left:803.0px;top:534.6px;font-size:15.6px;line-height:15.6px;color:#1a1a6e;transform:scaleX(1.0720);">23</div>
<div class="t" style="left:832.2px;top:535.1px;font-size:15px;line-height:15px;color:#111;transform:scaleX(0.8696);">Јабланички</div>
<div class="t" style="left:1023.1px;top:535.1px;font-size:15px;line-height:15px;color:#111;transform:scaleX(0.8850);">17,33</div>
<div class="t" style="left:803.0px;top:562.6px;font-size:15.6px;line-height:15.6px;color:#1a1a6e;transform:scaleX(1.0720);">24</div>
<div class="t" style="left:832.2px;top:563.1px;font-size:15px;line-height:15px;color:#111;transform:scaleX(0.8603);">Пчињски</div>
<div class="t" style="left:1023.1px;top:563.1px;font-size:15px;line-height:15px;color:#111;transform:scaleX(0.8850);">20,24</div>
<div class="t" style="left:803.0px;top:590.6px;font-size:15.6px;line-height:15.6px;color:#1a1a6e;transform:scaleX(1.0720);">25</div>
<div class="t" style="left:830.5px;top:591.1px;font-size:15px;line-height:15px;color:#111;transform:scaleX(0.8527);">Косовски</div>
<div class="t" style="left:1023.1px;top:591.1px;font-size:15px;line-height:15px;color:#111;transform:scaleX(0.8850);">20,61</div>
<div class="t" style="left:803.0px;top:618.6px;font-size:15.6px;line-height:15.6px;color:#1a1a6e;transform:scaleX(1.0720);">26</div>
<div class="t" style="left:832.2px;top:619.1px;font-size:15px;line-height:15px;color:#111;transform:scaleX(0.8513);">Пећки</div>
<div class="t" style="left:1023.1px;top:619.1px;font-size:15px;line-height:15px;color:#111;transform:scaleX(0.8850);">38,39</div>
<div class="t" style="left:803.0px;top:646.6px;font-size:15.6px;line-height:15.6px;color:#1a1a6e;transform:scaleX(1.0720);">27</div>
<div class="t" style="left:829.8px;top:647.1px;font-size:15px;line-height:15px;color:#111;transform:scaleX(0.8632);">Призренски</div>
<div class="t" style="left:1023.1px;top:647.1px;font-size:15px;line-height:15px;color:#111;transform:scaleX(0.8850);">13,50</div>
<div class="t" style="left:803.0px;top:674.6px;font-size:15.6px;line-height:15.6px;color:#1a1a6e;transform:scaleX(1.0720);">28</div>
<div class="t" style="left:832.2px;top:675.1px;font-size:15px;line-height:15px;color:#111;transform:scaleX(0.8294);">Косовско-митровачки</div>
<div class="t" style="left:1023.1px;top:675.1px;font-size:15px;line-height:15px;color:#111;transform:scaleX(0.8850);">12,00</div>
<div class="t" style="left:803.0px;top:702.6px;font-size:15.6px;line-height:15.6px;color:#1a1a6e;transform:scaleX(1.0720);">29</div>
<div class="t" style="left:832.2px;top:704.1px;font-size:15px;line-height:15px;color:#111;transform:scaleX(0.8226);">Косовско-поморавски</div>
<div class="t" style="left:1023.1px;top:704.1px;font-size:15px;line-height:15px;color:#111;transform:scaleX(0.8850);">22,56</div>
<div class="a" style="left:806.2px;top:723.2px;width:247.0999999999999px;height:2px;background:#14145a"></div>
<div class="t" style="left:831.2px;top:731.0px;font-size:16px;line-height:16px;color:#222;transform:scaleX(0.9667);">ЗИЗС</div>
<div class="t" style="left:1030.5px;top:731.8px;font-size:15px;line-height:15px;color:#111;transform:scaleX(0.8850);">5,62</div>
<svg width="1112" height="785" viewBox="0 0 1112 785">
<g id="rzs">
<circle cx="14.9" cy="20.3" r="3.1" fill="#1E90DD"/>
<circle cx="27.5" cy="32.7" r="12.4" fill="#1E90DD"/>
<circle cx="31.6" cy="36.6" r="3.3" fill="#fff"/>
<g fill="none" stroke="#151515" stroke-width="3.4">
<path d="M45.15,44 V23.7 H57 A4.25,4.25 0 0 1 57,32.2 H46.8"/>
<path d="M66.8,23.7 H80.5 A4.65,4.65 0 0 1 80.5,33 H70.5 M80.5,33 A4.65,4.65 0 0 1 80.5,42.3 H66.8"/>
<path d="M107,23.7 H101.7 A9.3,9.3 0 0 0 101.7,42.3 H124.7"/>
</g>
<text x="104.6" y="23.9" font-family="Liberation Sans, sans-serif" font-size="3.3" font-weight="bold" fill="#3f7fc4" textLength="20" lengthAdjust="spacingAndGlyphs">СРБИЈЕ</text>
</g>
<g id="grb" transform="translate(1060,0) scale(0.0841)">
<path d="M105,192 C92,120 150,66 240,96 L275,78 L310,96 C400,66 458,120 445,192 Z" fill="#F1EBC4"/>
<path d="M150,190 C150,140 190,120 235,135 L275,120 L315,135 C360,120 400,140 400,190 Z" fill="#F3DC55"/>
<rect x="160" y="183" width="230" height="46" fill="#E9C125"/>
<rect x="262" y="25" width="28" height="130" fill="#ECD540"/><rect x="243" y="50" width="66" height="22" fill="#ECD540"/>
<path d="M60,235 H490 V520 C490,640 400,700 275,730 C150,700 60,640 60,520 Z" fill="#D63A2E"/>
<path d="M86,262 H464 V515 C464,615 385,672 275,702 C165,672 86,615 86,515 Z" fill="#F6F1F1"/>
<path d="M150,266 H228 L233,300 L222,345 L200,374 L165,340 L150,300 Z M400,266 H322 L317,300 L328,345 L350,374 L385,340 L400,300 Z M250,262 H300 L291,300 L275,322 L259,300 Z" fill="#D63A2E"/>
<path d="M186,385 H354 V500 Q354,530 324,530 H216 Q186,530 186,500 Z" fill="#D63A2E"/>
<path d="M263,385 h22 v145 h-22 Z M186,446 h168 v22 h-168 Z" fill="#F6F1F1"/>
<path d="M150,482 L186,462 V536 L232,546 V588 L200,572 L165,556 Z M400,482 L364,462 V536 L318,546 V588 L350,572 L385,556 Z M200,602 L233,590 L242,690 L214,680 Z M350,602 L317,590 L308,690 L336,680 Z" fill="#D63A2E"/>
<path d="M112,300 C105,400 120,480 150,540 M400,540 C430,480 445,400 438,300" stroke="#E7A9A4" stroke-width="9" fill="none"/>
<path d="M98,578 L150,548 L208,572 L214,640 L172,668 L112,640 Z M452,578 L400,548 L342,572 L336,640 L378,668 L438,640 Z" fill="#F0B323"/>
<path d="M135,590 l28,10 l-8,30 l-26,-8 Z M415,590 l-28,10 l8,30 l26,-8 Z" fill="#DD5A2A"/>
</g>
</svg>
</body></html>
